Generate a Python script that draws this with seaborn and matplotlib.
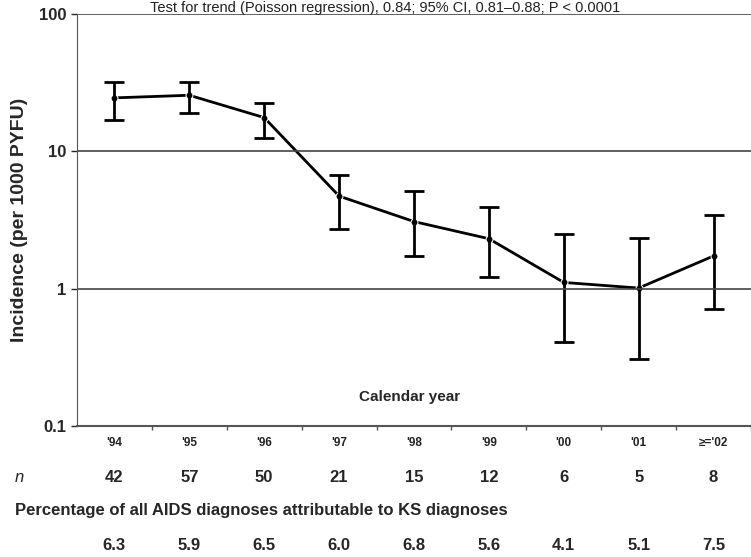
import numpy as np
import pandas as pd
import matplotlib
matplotlib.use('Agg')
import matplotlib.pyplot as plt
import matplotlib.transforms as mtransforms
import seaborn as sns

# data
years = ["'94", "'95", "'96", "'97", "'98", "'99", "'00", "'01", "\u2265='02"]
incidence = [24.5, 25.6, 17.6, 4.72, 3.08, 2.31, 1.11, 1.01, 1.73]
ci_low = [17.0, 18.9, 12.6, 2.71, 1.72, 1.22, 0.41, 0.31, 0.71]
ci_high = [31.8, 31.9, 22.5, 6.71, 5.17, 3.92, 2.51, 2.33, 3.45]
n_cases = [42, 57, 50, 21, 15, 12, 6, 5, 8]
pct_aids = ['6.3', '5.9', '6.5', '6.0', '6.8', '5.6', '4.1', '5.1', '7.5']

sns.set_style('white')
plt.rcParams['font.family'] = ['Liberation Sans', 'DejaVu Sans']

df = pd.DataFrame({'pos': np.arange(len(years)), 'inc': incidence})

fig = plt.figure(figsize=(7.51, 5.57), dpi=100)
ax = fig.add_axes([0.1025, 0.2352, 0.8975, 0.7397])

sns.lineplot(data=df, x='pos', y='inc', color='black', lw=2, marker='o',
             markersize=5, ax=ax)
yerr = [np.array(incidence) - np.array(ci_low), np.array(ci_high) - np.array(incidence)]
ax.errorbar(df['pos'], df['inc'], yerr=yerr, fmt='none', ecolor='black',
            elinewidth=2, capsize=7, capthick=2)

ax.set_yscale('log')
ax.set_ylim(0.1, 100)
ax.set_xlim(-0.5, 8.37)
ax.set_yticks([0.1, 1, 10, 100])
ax.set_yticklabels(['0.1', '1', '10', '100'], fontsize=12, fontweight='bold')
ax.minorticks_off()
for v in [1, 10, 100]:
    ax.axhline(v, color='#444444', lw=1.2)

ax.set_xticks(np.arange(len(years)) + 0.5)
ax.set_xticklabels([])
ax.tick_params(axis='x', direction='out', length=3, width=1, colors='#555555', bottom=True)
ax.tick_params(axis='y', direction='out', length=4, width=1, left=True)
sns.despine(ax=ax, top=True, right=True)
ax.spines['left'].set_color('#555555')
ax.spines['bottom'].set_color('#555555')
ax.spines['bottom'].set_linewidth(1.5)
ax.set_xlabel('')
ax.set_ylabel('Incidence (per 1000 PYFU)', fontsize=14, fontweight='bold', labelpad=8)

ax.text(0.494, 0.07, 'Calendar year', transform=ax.transAxes, ha='center',
        va='center', fontsize=11, fontweight='bold')

trans = mtransforms.blended_transform_factory(ax.transData, fig.transFigure)
for i, lab in enumerate(years):
    ax.text(i, 1 - 443 / 557, lab, transform=trans, ha='center', va='center',
            fontsize=8.5, fontweight='bold', color='#222222')
    ax.text(i, 1 - 478 / 557, str(n_cases[i]), transform=trans, ha='center',
            va='center', fontsize=12, fontweight='bold')
    ax.text(i, 1 - 545 / 557, pct_aids[i], transform=trans, ha='center',
            va='center', fontsize=12, fontweight='bold')

fig.text(15 / 751, 1 - 478 / 557, 'n', fontsize=12, fontstyle='italic', va='center')
fig.text(15 / 751, 1 - 511 / 557,
         'Percentage of all AIDS diagnoses attributable to KS diagnoses',
         fontsize=12, fontweight='bold', va='center')

# title line above the plot
fig.text(0.513, 0.999, 'Test for trend (Poisson regression), 0.84; 95% CI, 0.81\u20130.88; P < 0.0001',
         ha='center', va='top', fontsize=10.5, color='#222222')

fig.savefig('out.png', dpi=100)
